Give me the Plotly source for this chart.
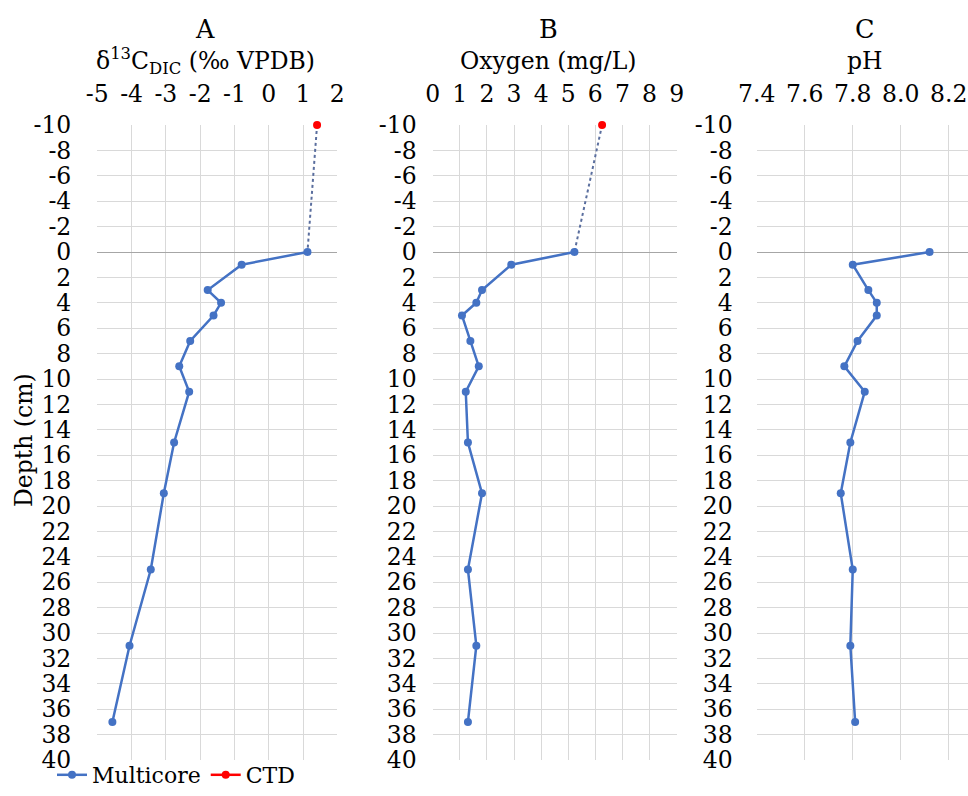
import plotly.graph_objects as go

# ---- data ----
depth = [0, 1, 3, 4, 5, 7, 9, 11, 15, 19, 25, 31, 37]
d13c = [1.13, -0.79, -1.78, -1.39, -1.61, -2.29, -2.61, -2.32, -2.76, -3.06, -3.44, -4.06, -4.56]
oxygen = [5.23, 2.90, 1.82, 1.61, 1.08, 1.39, 1.70, 1.22, 1.30, 1.82, 1.30, 1.61, 1.30]
ph = [8.12, 7.80, 7.865, 7.90, 7.90, 7.82, 7.765, 7.85, 7.79, 7.75, 7.80, 7.79, 7.81]
ctd_depth = [-10]
ctd_d13c = [1.41]
ctd_oxygen = [6.25]

panel_letters = ["A", "B", "C"]
panel_titles = ["δ<sup>13</sup>C<sub>DIC</sub> (‰ VPDB)", "Oxygen (mg/L)", "pH"]
y_tick_vals = list(range(-10, 41, 2))
y_tick_text = [str(v) for v in y_tick_vals]
xa_tick_vals = [-5, -4, -3, -2, -1, 0, 1, 2]
xa_tick_text = ["-5", "-4", "-3", "-2", "-1", "0", "1", "2"]
xb_tick_vals = [0, 1, 2, 3, 4, 5, 6, 7, 8, 9]
xb_tick_text = ["0", "1", "2", "3", "4", "5", "6", "7", "8", "9"]
xc_tick_vals = [7.4, 7.6, 7.8, 8.0, 8.2]
xc_tick_text = ["7.4", "7.6", "7.8", "8.0", "8.2"]

W, H = 968, 796
BLUE = "#4472C4"
RED = "#FF0000"
GRID = "#D9D9D9"
FONT = "DejaVu Serif"
FS = 23.5

def px(x):
    return x / W

def py(y):
    return 1 - y / H

fig = go.Figure()

# Panel A
fig.add_trace(go.Scatter(x=[ctd_d13c[0], d13c[0]], y=[ctd_depth[0], depth[0]], mode="lines",
                         line=dict(color="#5A6E9E", width=2, dash="dot"), showlegend=False,
                         xaxis="x", yaxis="y", hoverinfo="skip", cliponaxis=False))
fig.add_trace(go.Scatter(x=d13c, y=depth, mode="lines+markers", name="Multicore",
                         line=dict(color=BLUE, width=2.5), marker=dict(color=BLUE, size=8),
                         xaxis="x", yaxis="y", cliponaxis=False))
fig.add_trace(go.Scatter(x=ctd_d13c, y=ctd_depth, mode="lines+markers", name="CTD",
                         line=dict(color=RED, width=2.5), marker=dict(color=RED, size=8),
                         xaxis="x", yaxis="y", cliponaxis=False))
# Panel B
fig.add_trace(go.Scatter(x=[ctd_oxygen[0], oxygen[0]], y=[ctd_depth[0], depth[0]], mode="lines",
                         line=dict(color="#5A6E9E", width=2, dash="dot"), showlegend=False,
                         xaxis="x2", yaxis="y2", hoverinfo="skip", cliponaxis=False))
fig.add_trace(go.Scatter(x=oxygen, y=depth, mode="lines+markers", showlegend=False,
                         line=dict(color=BLUE, width=2.5), marker=dict(color=BLUE, size=8),
                         xaxis="x2", yaxis="y2", cliponaxis=False))
fig.add_trace(go.Scatter(x=ctd_oxygen, y=ctd_depth, mode="markers", showlegend=False,
                         marker=dict(color=RED, size=8), xaxis="x2", yaxis="y2", cliponaxis=False))
# Panel C
fig.add_trace(go.Scatter(x=ph, y=depth, mode="lines+markers", showlegend=False,
                         line=dict(color=BLUE, width=2.5), marker=dict(color=BLUE, size=8),
                         xaxis="x3", yaxis="y3", cliponaxis=False))

ydom = [py(760), py(125)]
tickfont = dict(family=FONT, size=FS, color="#000")

def xaxis(dom, rng, vals, text, anchor):
    return dict(domain=dom, range=rng, tickvals=vals, ticktext=text, side="top", anchor=anchor,
                showgrid=True, gridcolor=GRID, gridwidth=1, zeroline=False, showline=False,
                tickfont=tickfont, ticks="", ticklabelstandoff=17, fixedrange=True, automargin=False)

def yaxis(anchor, standoff):
    return dict(domain=ydom, range=[40, -10], tickvals=y_tick_vals, ticktext=y_tick_text, anchor=anchor,
                showgrid=True, gridcolor=GRID, gridwidth=1, zeroline=True, zerolinecolor="#A6A6A6",
                zerolinewidth=1, showline=False, tickfont=tickfont, ticks="",
                ticklabelstandoff=standoff, fixedrange=True, automargin=False)

fig.update_layout(
    width=W, height=H,
    margin=dict(l=0, r=0, t=0, b=0, autoexpand=False),
    paper_bgcolor="white", plot_bgcolor="white",
    font=dict(family=FONT, color="#000"),
    xaxis=xaxis([px(97.3), px(337.3)], [-5, 2], xa_tick_vals, xa_tick_text, "y"),
    xaxis2=xaxis([px(432.7), px(676.6)], [0, 9], xb_tick_vals, xb_tick_text, "y2"),
    xaxis3=xaxis([px(756.7), 1.0], [7.4, 8.28], xc_tick_vals, xc_tick_text, "y3"),
    yaxis=yaxis("x", 25),
    yaxis2=yaxis("x2", 15),
    yaxis3=yaxis("x3", 23),
    legend=dict(orientation="h", x=px(52), y=0, xanchor="left", yanchor="bottom",
                font=dict(family=FONT, size=22, color="#000"), bgcolor="rgba(0,0,0,0)",
                itemwidth=30, tracegroupgap=0, borderwidth=0),
    showlegend=True,
)

annotations = []
letter_x = [205, 548, 865]
for i in range(3):
    annotations.append(dict(text=panel_letters[i], x=px(letter_x[i]), y=py(29), xref="paper", yref="paper",
                            showarrow=False, font=dict(family=FONT, size=FS + 2, color="#000"),
                            xanchor="center", yanchor="middle"))
    annotations.append(dict(text=panel_titles[i], x=px(letter_x[i]), y=py(61), xref="paper", yref="paper",
                            showarrow=False, font=dict(family=FONT, size=FS, color="#000"),
                            xanchor="center", yanchor="middle"))
annotations.append(dict(text="Depth (cm)", x=px(24), y=py(440), xref="paper", yref="paper",
                        showarrow=False, textangle=-90, font=dict(family=FONT, size=FS, color="#000"),
                        xanchor="center", yanchor="middle"))
fig.update_layout(annotations=annotations)

fig.write_html("out.html")
